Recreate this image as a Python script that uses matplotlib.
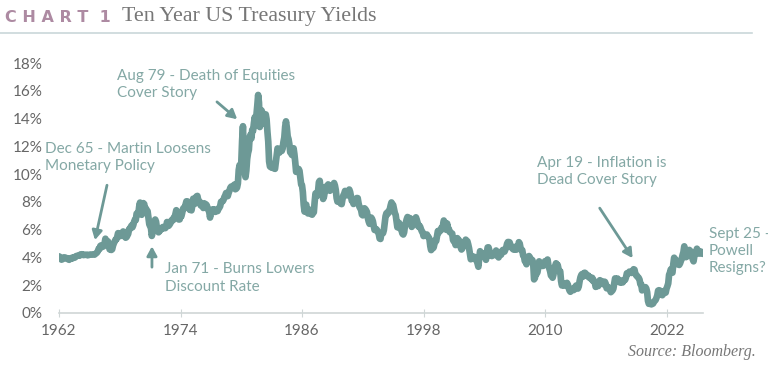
import matplotlib
matplotlib.use("Agg")
import matplotlib.pyplot as plt
from matplotlib.lines import Line2D
import numpy as np

# monthly 10y yields (%), Jan 1962 onward
y1960s = [
    4.08, 4.04, 3.93, 3.84, 3.87, 3.91, 4.01, 3.98, 3.98, 3.93, 3.92, 3.86,
    3.83, 3.92, 3.93, 3.97, 3.93, 3.99, 4.02, 4.00, 4.08, 4.11, 4.12, 4.13,
    4.17, 4.15, 4.22, 4.23, 4.20, 4.17, 4.19, 4.19, 4.20, 4.19, 4.15, 4.18,
    4.19, 4.21, 4.21, 4.20, 4.21, 4.21, 4.20, 4.25, 4.29, 4.35, 4.45, 4.62,
    4.61, 4.83, 4.87, 4.75, 4.78, 4.81, 5.02, 5.35, 5.18, 5.01, 5.16, 4.84,
    4.58, 4.63, 4.54, 4.59, 4.85, 5.02, 5.16, 5.28, 5.30, 5.48, 5.75, 5.70,
    5.53, 5.56, 5.74, 5.64, 5.87, 5.72, 5.50, 5.42, 5.46, 5.58, 5.70, 6.03,
    6.04, 6.19, 6.30, 6.17, 6.32, 6.57, 6.72, 6.69, 7.16, 7.10, 7.14, 7.65,
]
y1970s = [
    7.95, 7.24, 7.07, 7.39, 7.91, 7.84, 7.46, 7.53, 7.39, 7.33, 6.84, 6.39,
    6.24, 6.11, 5.55, 5.83, 6.39, 6.52, 6.73, 6.58, 6.14, 5.93, 5.81, 5.93,
    5.95, 6.08, 6.07, 6.19, 6.13, 6.11, 6.11, 6.21, 6.55, 6.48, 6.28, 6.36,
    6.46, 6.64, 6.71, 6.67, 6.85, 6.90, 7.13, 7.40, 7.09, 6.79, 6.73, 6.74,
    6.99, 6.96, 7.21, 7.51, 7.58, 7.54, 7.81, 8.04, 8.04, 7.90, 7.68, 7.43,
    7.50, 7.39, 7.73, 8.23, 8.06, 7.86, 8.06, 8.40, 8.43, 8.14, 8.05, 8.00,
    7.74, 7.79, 7.73, 7.56, 7.90, 7.86, 7.83, 7.77, 7.59, 7.41, 7.29, 6.87,
    7.21, 7.39, 7.46, 7.37, 7.46, 7.28, 7.33, 7.40, 7.34, 7.52, 7.58, 7.69,
    8.01, 8.03, 8.04, 8.15, 8.35, 8.46, 8.64, 8.41, 8.42, 8.64, 8.81, 9.01,
    9.10, 9.10, 9.12, 9.18, 9.25, 8.91, 8.95, 9.03, 9.33, 10.30, 10.65, 10.39,
]
y1980s = [
    10.80, 12.41, 13.45, 11.47, 10.18, 9.78, 10.25, 11.10, 11.51, 11.75, 12.68, 12.84,
    12.57, 13.19, 13.12, 13.68, 14.10, 13.47, 14.28, 14.94, 15.70, 15.15, 13.39, 13.72,
    14.59, 14.43, 13.86, 13.87, 13.62, 14.30, 13.95, 13.06, 12.34, 10.91, 10.55, 10.54,
    10.46, 10.72, 10.51, 10.40, 10.38, 10.85, 11.38, 11.85, 11.65, 11.54, 11.69, 11.83,
    11.67, 11.84, 12.32, 12.63, 13.41, 13.80, 13.36, 12.72, 12.52, 12.16, 11.57, 11.50,
    11.38, 11.51, 11.86, 11.43, 10.85, 10.16, 10.31, 10.33, 10.37, 10.24, 9.78, 9.26,
    9.19, 8.70, 7.78, 7.30, 7.71, 7.80, 7.30, 7.17, 7.45, 7.43, 7.25, 7.11,
    7.08, 7.25, 7.25, 8.02, 8.61, 8.40, 8.45, 8.76, 9.42, 9.52, 8.86, 8.99,
    8.67, 8.21, 8.37, 8.72, 9.09, 8.92, 9.06, 9.26, 8.98, 8.80, 8.96, 9.11,
    9.09, 9.17, 9.36, 9.18, 8.86, 8.28, 8.02, 8.11, 8.19, 8.01, 7.87, 7.84,
]
y1990s = [
    8.21, 8.47, 8.59, 8.79, 8.76, 8.48, 8.47, 8.75, 8.89, 8.72, 8.39, 8.08,
    8.09, 7.85, 8.11, 8.04, 8.07, 8.28, 8.27, 7.90, 7.65, 7.53, 7.42, 7.09,
    7.03, 7.34, 7.54, 7.48, 7.39, 7.26, 6.84, 6.59, 6.42, 6.59, 6.87, 6.77,
    6.60, 6.26, 5.98, 5.97, 6.04, 5.96, 5.81, 5.68, 5.36, 5.33, 5.72, 5.77,
    5.75, 5.97, 6.48, 6.97, 7.18, 7.10, 7.30, 7.24, 7.46, 7.74, 7.96, 7.81,
    7.78, 7.47, 7.20, 7.06, 6.63, 6.17, 6.28, 6.49, 6.20, 6.04, 5.93, 5.71,
    5.65, 5.81, 6.27, 6.51, 6.74, 6.91, 6.87, 6.64, 6.83, 6.53, 6.20, 6.30,
    6.58, 6.42, 6.69, 6.89, 6.71, 6.49, 6.22, 6.30, 6.21, 6.03, 5.88, 5.81,
    5.54, 5.57, 5.65, 5.64, 5.65, 5.50, 5.46, 5.34, 4.81, 4.53, 4.83, 4.65,
    4.72, 5.00, 5.23, 5.18, 5.54, 5.90, 5.79, 5.94, 5.92, 6.11, 6.03, 6.28,
]
y2000s = [
    6.66, 6.52, 6.26, 5.99, 6.44, 6.10, 6.05, 5.83, 5.80, 5.74, 5.72, 5.24,
    5.16, 5.10, 4.89, 5.14, 5.39, 5.28, 5.24, 4.97, 4.73, 4.57, 4.65, 5.09,
    5.04, 4.91, 5.28, 5.21, 5.16, 4.93, 4.65, 4.26, 3.87, 3.94, 4.05, 4.03,
    4.05, 3.90, 3.81, 3.96, 3.57, 3.33, 3.98, 4.45, 4.27, 4.29, 4.30, 4.27,
    4.15, 4.08, 3.83, 4.35, 4.72, 4.73, 4.50, 4.28, 4.13, 4.10, 4.19, 4.23,
    4.22, 4.17, 4.50, 4.34, 4.14, 4.00, 4.18, 4.26, 4.20, 4.46, 4.54, 4.47,
    4.42, 4.57, 4.72, 4.99, 5.11, 5.11, 5.09, 4.88, 4.72, 4.73, 4.60, 4.56,
    4.76, 4.72, 4.56, 4.69, 4.75, 5.10, 5.00, 4.67, 4.52, 4.53, 4.15, 4.10,
    3.74, 3.74, 3.51, 3.68, 3.88, 4.10, 4.01, 3.89, 3.69, 3.81, 3.53, 2.42,
    2.52, 2.87, 2.82, 2.93, 3.29, 3.72, 3.56, 3.59, 3.40, 3.39, 3.40, 3.59,
]
y2010s = [
    3.73, 3.69, 3.73, 3.85, 3.42, 3.20, 3.01, 2.70, 2.65, 2.54, 2.76, 3.29,
    3.39, 3.58, 3.41, 3.46, 3.17, 3.00, 3.00, 2.30, 1.98, 2.15, 2.01, 1.98,
    1.97, 1.97, 2.17, 2.05, 1.80, 1.62, 1.53, 1.68, 1.72, 1.75, 1.65, 1.72,
    1.91, 1.98, 1.96, 1.76, 1.93, 2.30, 2.58, 2.74, 2.81, 2.62, 2.72, 2.90,
    2.86, 2.71, 2.72, 2.71, 2.56, 2.60, 2.54, 2.42, 2.53, 2.30, 2.33, 2.21,
    1.88, 1.98, 2.04, 1.94, 2.20, 2.36, 2.32, 2.17, 2.17, 2.07, 2.26, 2.24,
    2.09, 1.78, 1.89, 1.81, 1.81, 1.64, 1.50, 1.56, 1.63, 1.76, 2.14, 2.49,
    2.43, 2.42, 2.48, 2.30, 2.30, 2.19, 2.32, 2.21, 2.20, 2.36, 2.35, 2.40,
    2.58, 2.86, 2.84, 2.87, 2.98, 2.91, 2.89, 2.89, 3.00, 3.15, 3.12, 2.83,
    2.71, 2.68, 2.57, 2.53, 2.40, 2.07, 2.06, 1.63, 1.70, 1.71, 1.81, 1.86,
]
y2020s = [
    1.76, 1.50, 0.87, 0.66, 0.67, 0.73, 0.62, 0.65, 0.68, 0.79, 0.87, 0.93,
    1.08, 1.26, 1.61, 1.64, 1.62, 1.52, 1.32, 1.28, 1.37, 1.58, 1.56, 1.47,
    1.76, 1.93, 2.13, 2.75, 2.90, 3.14, 2.90, 2.90, 3.52, 3.98, 3.89, 3.62,
    3.53, 3.75, 3.66, 3.46, 3.57, 3.75, 3.90, 4.17, 4.38, 4.80, 4.50, 4.02,
    4.06, 4.21, 4.21, 4.54, 4.48, 4.31, 4.25, 3.87, 3.72, 4.10, 4.36, 4.39,
    4.63, 4.45, 4.28, 4.28, 4.42, 4.38, 4.39, 4.26,
]

start_year = 1962
xticks = [1962, 1974, 1986, 1998, 2010, 2022]
yticks = [0, 2, 4, 6, 8, 10, 12, 14, 16, 18]

notes = [
    ("Dec 65 - Martin Loosens\nMonetary Policy", 1960.6, 12.3),
    ("Aug 79 - Death of Equities\nCover Story", 1967.75, 17.6),
    ("Jan 71 - Burns Lowers\nDiscount Rate", 1972.45, 3.65),
    ("Apr 19 - Inflation is\nDead Cover Story", 2009.2, 11.3),
    ("Sept 25 -\nPowell\nResigns?", 2026.15, 6.2),
]
# (tail, tip) of each arrow
arrows = [
    ((1966.74, 9.2), (1965.55, 5.25)),
    ((1971.18, 3.3), (1971.18, 4.8)),
    ((1977.6, 15.2), (1979.6, 13.95)),
    ((2015.4, 7.55), (2018.65, 3.95)),
]

yields = np.array(y1960s + y1970s + y1980s + y1990s + y2000s + y2010s + y2020s)
dates = start_year + np.arange(len(yields)) / 12.0

line_col = "#6d9996"
note_col = "#84a8a5"
tick_col = "#666666"

fig = plt.figure(figsize=(7.68, 3.65), dpi=100)
ax = fig.add_axes([59 / 768, 1 - 313 / 365, (703 - 59) / 768, 250 / 365])

ax.plot(dates, yields, color=line_col, lw=4.8, solid_joinstyle="round", solid_capstyle="round")

ax.set_xlim(1962, 2025.6)
ax.set_ylim(0, 18)
ax.set_xticks(xticks)
ax.set_yticks(yticks)
ax.set_yticklabels([f"{v}%" for v in yticks])
for s in ["top", "right", "left"]:
    ax.spines[s].set_visible(False)
ax.spines["bottom"].set_color("#cfd6d6")
ax.spines["bottom"].set_linewidth(1.2)
ax.tick_params(axis="x", direction="inout", length=6, color="#cfd6d6", labelsize=11,
               labelcolor=tick_col, pad=5)
ax.tick_params(axis="y", length=0, labelsize=11, labelcolor=tick_col, pad=12)
for lab in ax.get_xticklabels() + ax.get_yticklabels():
    lab.set_family("Lato")

for txt, x, y in notes:
    ax.text(x, y, txt, color=note_col, fontsize=11, family="Lato", va="top", ha="left",
            linespacing=1.3, clip_on=False)
for tail, tip in arrows:
    ax.annotate("", xy=tip, xytext=tail,
                arrowprops=dict(arrowstyle="-|>,head_length=0.55,head_width=0.3",
                                color=line_col, lw=2, shrinkA=0, shrinkB=0))

# header
fig.text(5 / 768, 1 - 18 / 365, "C H A R T  1", color="#ad8aa2", fontsize=11.5,
         family="DejaVu Sans", weight="bold", va="center", ha="left")
fig.text(122 / 768, 1 - 17 / 365, "Ten Year US Treasury Yields", color="#777777",
         fontsize=15.8, family="Liberation Serif", va="center", ha="left")
fig.add_artist(Line2D([0, 752 / 768], [1 - 33 / 365] * 2, color="#cad7d9", lw=1.2))

fig.text(756 / 768, 1 - 352 / 365, "Source: Bloomberg.", color="#777777", fontsize=11.5,
         family="Liberation Serif", style="italic", ha="right", va="center")

fig.savefig("out.png", dpi=100)
